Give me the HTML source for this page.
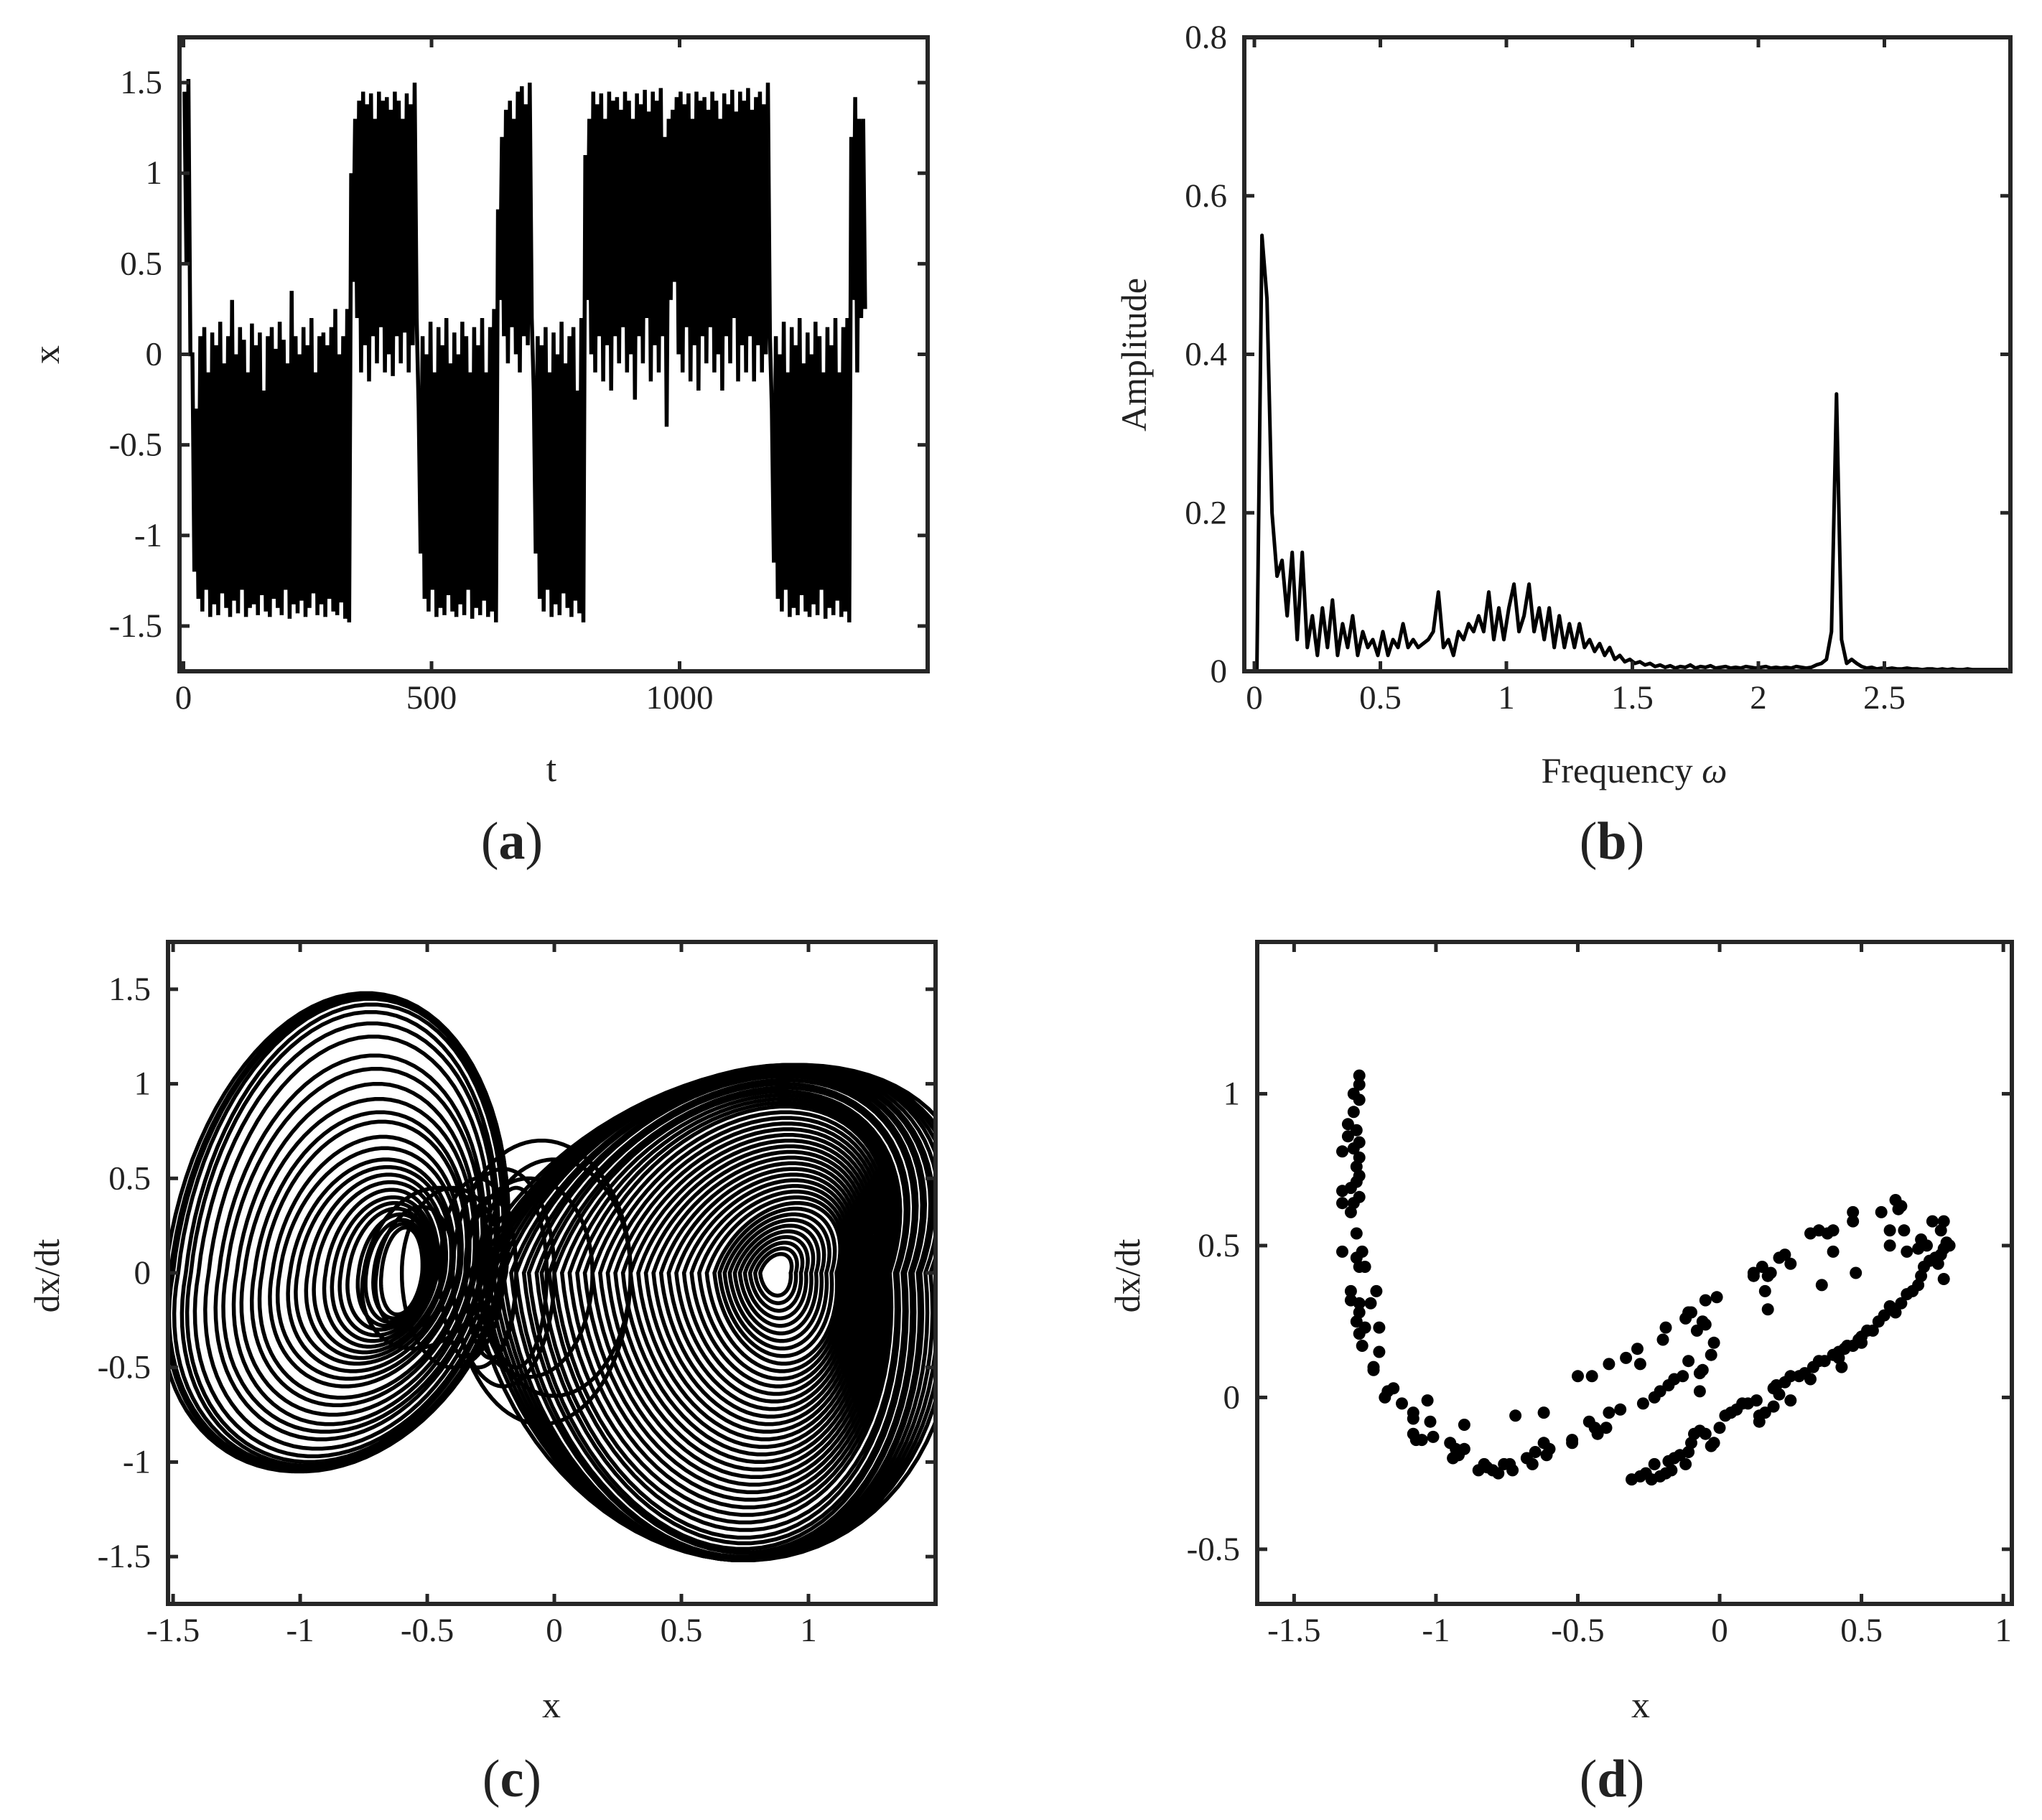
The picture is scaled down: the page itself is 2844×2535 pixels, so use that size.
<!DOCTYPE html>
<html><head><meta charset="utf-8"><style>
html,body{margin:0;padding:0;background:#fff;}
svg{display:block;font-family:"Liberation Serif","DejaVu Serif",serif;}
</style></head><body>
<svg id="fig" width="2844" height="2535" viewBox="0 0 2844 2535" xmlns="http://www.w3.org/2000/svg"></svg>
<script>
// ===== Panel (a) data: time series extrema per cycle (cycle spacing 8 time units) =====
const tsHigh = [1.45,1.52,
0.0,-0.3,0.1,0.15,-0.1,0.12,0.05,0.18,-0.05,0.1,0.3,0.0,0.15,0.08,-0.1,0.17,0.05,0.12,-0.2,0.1,0.15,0.03,0.18,0.08,-0.05,0.35,0.1,0.0,0.15,0.05,0.2,-0.1,0.1,0.12,0.05,0.15,0.25,0.0,0.1,0.25,
1.0,1.3,1.4,1.45,1.38,1.44,1.3,1.45,1.4,1.42,1.35,1.45,1.4,1.3,1.44,1.38,1.5,
-0.3,0.1,0.0,0.18,-0.1,0.15,0.05,0.2,-0.05,0.12,0.0,0.18,0.1,-0.1,0.15,0.05,0.2,-0.1,0.15,0.25,
0.8,1.2,1.35,1.4,1.3,1.45,1.48,1.38,1.5,
-0.2,0.1,0.05,0.15,-0.1,0.12,0.0,0.18,-0.05,0.1,0.15,-0.2,0.2,
1.1,1.3,1.45,1.38,1.44,1.3,1.45,1.4,1.42,1.35,1.45,1.4,1.3,1.44,1.38,1.46,1.34,1.45,1.4,1.47,1.2,1.3,1.35,1.42,1.45,1.38,1.44,1.3,1.45,1.4,1.42,1.35,1.45,1.4,1.3,1.44,1.38,1.46,1.34,1.45,1.4,1.47,1.35,1.42,1.45,1.38,1.5,
-0.3,0.1,0.0,0.18,-0.1,0.15,0.05,0.2,-0.05,0.12,0.0,0.18,0.1,-0.1,0.15,0.05,0.2,-0.1,0.15,0.2,
1.2,1.42,1.3,1.3];
const tsLow = [0.5,0.0,
-1.2,-1.35,-1.42,-1.3,-1.45,-1.38,-1.44,-1.32,-1.4,-1.45,-1.36,-1.43,-1.3,-1.45,-1.4,-1.38,-1.44,-1.33,-1.42,-1.45,-1.35,-1.4,-1.44,-1.3,-1.46,-1.38,-1.43,-1.36,-1.45,-1.4,-1.32,-1.44,-1.38,-1.45,-1.35,-1.42,-1.44,-1.37,-1.46,-1.48,
0.4,0.2,-0.1,0.05,-0.15,0.1,-0.05,0.15,-0.1,0.0,-0.12,0.1,-0.05,0.12,-0.1,0.05,0.2,
-1.1,-1.35,-1.42,-1.3,-1.45,-1.4,-1.44,-1.33,-1.42,-1.45,-1.38,-1.44,-1.3,-1.46,-1.4,-1.44,-1.36,-1.45,-1.42,-1.48,
0.3,0.1,-0.05,0.15,0.0,-0.1,0.1,0.05,0.2,
-1.1,-1.35,-1.42,-1.3,-1.45,-1.38,-1.44,-1.32,-1.4,-1.45,-1.36,-1.43,-1.48,
0.3,0.0,-0.1,0.1,-0.15,0.05,-0.2,0.1,-0.05,0.15,-0.1,0.0,-0.25,0.1,-0.05,0.2,-0.15,0.05,-0.1,0.1,-0.4,0.3,0.4,0.0,-0.1,0.15,-0.15,0.05,-0.2,0.1,-0.05,0.15,-0.1,0.0,-0.2,0.1,-0.05,0.2,-0.15,0.05,-0.1,0.1,-0.15,0.05,-0.1,0.0,0.1,
-1.15,-1.35,-1.42,-1.3,-1.45,-1.4,-1.44,-1.33,-1.42,-1.45,-1.38,-1.44,-1.3,-1.46,-1.4,-1.44,-1.36,-1.45,-1.42,-1.48,
0.3,-0.1,0.2,0.25];
const tsCycle = 8;
const aXTicks = [0,500,1000];
const aYTicks = [-1.5,-1,-0.5,0,0.5,1,1.5];
const aYTickLabels = ["-1.5","-1","-0.5","0","0.5","1","1.5"];

// ===== Panel (b) data: spectrum sampled every 0.02 =====
const specStep = 0.02;
const specAmp = [0.0,0.55,0.47,0.2,0.12,0.14,0.07,0.15,0.04,0.15,0.03,0.07,0.02,0.08,0.03,0.09,0.02,0.06,0.03,0.07,
0.02,0.05,0.03,0.04,0.02,0.05,0.02,0.04,0.03,0.06,0.03,0.04,0.03,0.035,0.04,0.05,0.10,0.03,0.04,0.02,
0.05,0.04,0.06,0.05,0.07,0.05,0.1,0.04,0.08,0.04,0.08,0.11,0.05,0.07,0.11,0.05,0.08,0.04,0.08,0.03,
0.07,0.03,0.06,0.03,0.06,0.03,0.04,0.025,0.035,0.02,0.03,0.015,0.02,0.012,0.015,0.01,0.012,0.008,0.01,0.006,
0.008,0.005,0.007,0.004,0.006,0.005,0.008,0.004,0.006,0.005,0.007,0.004,0.005,0.006,0.004,0.005,0.004,0.006,0.005,0.004,
0.005,0.006,0.004,0.005,0.004,0.005,0.004,0.006,0.005,0.004,0.005,0.008,0.01,0.015,0.05,0.35,0.04,0.01,0.015,0.01,
0.006,0.004,0.005,0.003,0.004,0.003,0.004,0.003,0.003,0.004,0.003,0.003,0.002,0.003,0.003,0.002,0.003,0.002,0.003,0.002,
0.002,0.003,0.002,0.002,0.002,0.002,0.002,0.002,0.002,0.002];
const bXTicks = [0,0.5,1,1.5,2,2.5];
const bXTickLabels = ["0","0.5","1","1.5","2","2.5"];
const bYTicks = [0,0.2,0.4,0.6,0.8];
const bYTickLabels = ["0","0.2","0.4","0.6","0.8"];

// ===== Panel (c) data: phase-portrait loops =====
const loopCx = [-0.86,-0.85,-0.85,-0.84,-0.83,-0.83,-0.82,-0.81,-0.8,-0.79,-0.78,-0.77,-0.76,-0.75,-0.74,-0.73,-0.72,-0.71,-0.7,-0.69,-0.68,-0.67,-0.66,-0.65,-0.63,-0.62,-0.61,-0.6,-0.55,-0.5,
-0.3,-0.2,-0.1,-0.25,0.0,-0.15,-0.4,-0.05,
0.87,0.87,0.87,0.87,0.87,0.87,0.87,0.87,0.87,0.87,0.86,0.85,0.84,0.83,0.82,0.81,0.8,0.79,0.78,0.77,0.76,0.75,0.74,0.73,0.72,0.71,0.7,0.69,0.68,0.67,0.66,0.66,0.65,0.65,0.64,0.64,0.63,0.63,0.62,0.62,0.62,0.62,0.62,0.62,0.62];
const loopRx = [0.67,0.66,0.65,0.64,0.62,0.6,0.58,0.55,0.52,0.5,0.47,0.45,0.42,0.4,0.37,0.35,0.32,0.3,0.27,0.25,0.22,0.2,0.18,0.16,0.14,0.12,0.1,0.08,0.15,0.25,
0.15,0.2,0.25,0.1,0.3,0.12,0.2,0.35,
0.06,0.08,0.1,0.12,0.14,0.16,0.18,0.2,0.22,0.24,0.26,0.28,0.3,0.32,0.34,0.36,0.38,0.4,0.42,0.44,0.46,0.48,0.5,0.52,0.54,0.56,0.58,0.6,0.62,0.64,0.66,0.68,0.7,0.72,0.74,0.76,0.78,0.8,0.82,0.84,0.86,0.88,0.9,0.92,0.95];
const loopTop = [1.48,1.47,1.46,1.45,1.42,1.38,1.32,1.25,1.15,1.08,1.0,0.92,0.85,0.8,0.72,0.66,0.6,0.56,0.52,0.48,0.44,0.4,0.37,0.34,0.31,0.28,0.26,0.24,0.35,0.45,
0.5,0.55,0.5,0.4,0.6,0.45,0.45,0.7,
0.1,0.13,0.16,0.19,0.22,0.25,0.28,0.31,0.34,0.37,0.4,0.43,0.46,0.49,0.52,0.55,0.58,0.61,0.64,0.67,0.7,0.73,0.76,0.79,0.82,0.85,0.88,0.9,0.92,0.94,0.96,0.98,1.0,1.02,1.04,1.05,1.06,1.07,1.08,1.09,1.1,1.1,1.1,1.1,1.1];
const loopBottom = [1.05,1.05,1.04,1.03,1.02,1.0,0.97,0.93,0.88,0.84,0.8,0.75,0.7,0.66,0.6,0.56,0.52,0.48,0.45,0.42,0.39,0.36,0.33,0.3,0.28,0.26,0.24,0.22,0.3,0.4,
0.5,0.6,0.55,0.45,0.65,0.5,0.5,0.8,
0.12,0.16,0.2,0.24,0.28,0.32,0.36,0.4,0.44,0.48,0.52,0.56,0.6,0.64,0.68,0.72,0.76,0.8,0.84,0.88,0.92,0.96,1.0,1.04,1.08,1.12,1.16,1.2,1.24,1.28,1.32,1.36,1.4,1.43,1.46,1.48,1.5,1.51,1.52,1.52,1.52,1.52,1.52,1.52,1.52];
const cXTicks = [-1.5,-1,-0.5,0,0.5,1];
const cXTickLabels = ["-1.5","-1","-0.5","0","0.5","1"];
const cYTicks = [-1.5,-1,-0.5,0,0.5,1,1.5];
const cYTickLabels = ["-1.5","-1","-0.5","0","0.5","1","1.5"];

// ===== Panel (d) data: Poincaré section points =====
const poincX = [-1.27,-1.27,-1.29,-1.27,-1.29,-1.31,-1.28,-1.31,-1.27,-1.29,-1.33,-1.27,-1.28,-1.27,-1.28,-1.3,-1.33,-1.27,-1.29,-1.33,-1.3,-1.28,-1.33,-1.26,-1.28,-1.27,-1.25,-1.3,-1.23,-1.27,-1.3,-1.27,-1.28,-1.25,-1.2,-1.27,-1.21,-1.26,-1.2,-1.22,-1.22,-1.17,-1.18,-1.15,-1.12,-1.08,-1.08,-1.03,-1.02,-1.08,-1.07,-1.05,-1.01,-0.95,-0.93,-0.9,-0.9,-0.94,-0.92,-0.85,-0.83,-0.82,-0.8,-0.78,-0.76,-0.74,-0.73,-0.72,-0.68,-0.66,-0.65,-0.62,-0.62,-0.61,-0.6,-0.52,-0.52,
-0.5,-0.45,-0.39,-0.33,-0.29,-0.28,-0.2,-0.19,-0.12,-0.11,-0.1,-0.05,-0.01,-0.06,-0.08,0.12,0.12,0.15,0.17,0.18,0.21,0.23,0.25,0.32,0.35,0.38,0.4,0.4,0.47,0.47,0.48,0.36,0.17,0.16,
-0.46,-0.44,-0.43,-0.4,-0.39,-0.35,-0.27,-0.23,-0.21,-0.18,-0.16,-0.13,-0.11,-0.07,-0.06,-0.03,-0.02,-0.07,-0.05,
-0.31,-0.28,-0.26,-0.24,-0.23,-0.21,-0.19,-0.18,-0.17,-0.16,-0.14,-0.12,-0.11,-0.1,-0.09,-0.07,-0.05,-0.03,-0.02,0.0,0.02,0.04,0.06,0.08,0.1,0.13,0.14,0.14,0.16,0.19,0.19,0.21,0.23,0.25,0.28,0.3,0.33,0.35,0.37,0.4,0.42,0.43,0.45,0.47,0.49,0.5,0.52,0.54,0.56,0.58,0.6,0.62,0.64,0.66,0.68,0.7,0.71,0.72,0.74,0.76,0.77,0.78,0.79,0.79,0.8,0.81,0.78,0.79,0.75,0.73,0.71,0.7,0.66,0.65,0.64,0.63,0.62,0.6,0.6,0.57,0.42,0.44,0.32,0.2,0.25,0.5];
const poincY = [1.06,1.03,1.0,0.98,0.94,0.9,0.88,0.86,0.84,0.82,0.81,0.79,0.76,0.73,0.71,0.69,0.68,0.66,0.64,0.64,0.61,0.54,0.48,0.48,0.46,0.43,0.43,0.35,0.31,0.31,0.32,0.28,0.25,0.23,0.23,0.21,0.35,0.17,0.15,0.1,0.09,0.02,0.0,0.03,-0.02,-0.05,-0.07,-0.01,-0.08,-0.12,-0.14,-0.14,-0.13,-0.15,-0.17,-0.17,-0.09,-0.2,-0.19,-0.24,-0.22,-0.23,-0.24,-0.25,-0.22,-0.22,-0.24,-0.06,-0.2,-0.22,-0.18,-0.15,-0.05,-0.19,-0.17,-0.15,-0.14,
0.07,0.07,0.11,0.13,0.16,0.11,0.19,0.23,0.26,0.28,0.28,0.32,0.33,0.25,0.22,0.4,0.41,0.43,0.4,0.41,0.46,0.47,0.44,0.54,0.55,0.54,0.55,0.48,0.58,0.61,0.41,0.37,0.29,0.35,
-0.08,-0.1,-0.12,-0.1,-0.05,-0.04,-0.02,0.0,0.02,0.04,0.06,0.07,0.12,0.08,0.09,0.14,0.18,0.02,0.24,
-0.27,-0.26,-0.25,-0.27,-0.22,-0.26,-0.25,-0.21,-0.24,-0.2,-0.19,-0.22,-0.18,-0.15,-0.12,-0.11,-0.12,-0.16,-0.15,-0.1,-0.06,-0.05,-0.04,-0.02,-0.02,-0.01,-0.06,-0.08,-0.05,-0.03,0.03,0.01,0.05,0.07,0.07,0.08,0.1,0.12,0.12,0.14,0.15,0.1,0.17,0.17,0.19,0.2,0.22,0.22,0.25,0.27,0.3,0.28,0.31,0.34,0.35,0.37,0.4,0.43,0.45,0.46,0.44,0.47,0.39,0.49,0.51,0.5,0.55,0.58,0.58,0.5,0.52,0.49,0.48,0.55,0.63,0.62,0.65,0.5,0.55,0.61,0.13,0.16,0.06,0.04,-0.01,0.18];
const dXTicks = [-1.5,-1,-0.5,0,0.5,1];
const dXTickLabels = ["-1.5","-1","-0.5","0","0.5","1"];
const dYTicks = [-0.5,0,0.5,1];
const dYTickLabels = ["-0.5","0","0.5","1"];

// ===== rendering =====
const NS = "http://www.w3.org/2000/svg";
const svg = document.getElementById('fig');
function mk(tag, attrs, parent){
  const e = document.createElementNS(NS, tag);
  for (const k in attrs) e.setAttribute(k, attrs[k]);
  (parent||svg).appendChild(e);
  return e;
}
function txt(s, x, y, size, anchor, parent, rot){
  const t = mk('text', {x:x, y:y, 'font-size':size, 'text-anchor':anchor||'middle', fill:'#222'}, parent);
  if (rot) t.setAttribute('transform', 'rotate(' + rot + ' ' + x + ' ' + y + ')');
  t.textContent = s;
  return t;
}
function makeAxes(id, L, R, T, B, xmin, xmax, ymin, ymax, xt, xtl, yt, ytl){
  const g = mk('g', {});
  
  
  const sx = v => L + (v - xmin) / (xmax - xmin) * (R - L);
  const sy = v => B - (v - ymin) / (ymax - ymin) * (B - T);
  const cp = mk('clipPath', {id: id + '-clip'}, g);
  mk('rect', {x:L, y:T, width:R-L, height:B-T}, cp);
  const plot = mk('g', {'clip-path': 'url(#' + id + '-clip)'}, g);
  
  
  const ticks = mk('g', {stroke:'#262626', 'stroke-width':5}, g);
  
  
  const tl = 14;
  xt.forEach((v, i) => {
    const x = sx(v);
    mk('line', {x1:x, y1:B, x2:x, y2:B-tl}, ticks);
    mk('line', {x1:x, y1:T, x2:x, y2:T+tl}, ticks);
    const lb = txt(xtl[i], x, B + 52, 47, 'middle', g);
    
    
  });
  yt.forEach((v, i) => {
    const y = sy(v);
    mk('line', {x1:L, y1:y, x2:L+tl, y2:y}, ticks);
    mk('line', {x1:R, y1:y, x2:R-tl, y2:y}, ticks);
    const lb = txt(ytl[i], L - 24, y + 15, 47, 'end', g);
    
    
  });
  const box = mk('rect', {x:L, y:T, width:R-L, height:B-T, fill:'none', stroke:'#262626', 'stroke-width':6}, g);
  
  
  return {g, plot, sx, sy};
}
function label(s, x, y, size, name, rot){
  const t = txt(s, x, y, size, 'middle', svg, rot);
  
  
  return t;
}
function panelLabel(letter, x, y, name){
  const t = mk('text', {x:x, y:y, 'font-size':74, 'text-anchor':'middle', fill:'#222'});
  
  
  const a = mk('tspan', {}, t); a.textContent = '(';
  const b = mk('tspan', {'font-weight':'bold'}, t); b.textContent = letter;
  const c = mk('tspan', {}, t); c.textContent = ')';
}

// Panel (a)
const A = makeAxes('panel-a', 250, 1292, 52, 935, -8, 1500, -1.75, 1.75, aXTicks, ["0","500","1000"], aYTicks, aYTickLabels);
{
  let d = '';
  for (let i = 0; i < tsHigh.length; i++) {
    const t1 = tsCycle * i + 2, t2 = tsCycle * i + 6;
    d += (i === 0 ? 'M' : 'L') + A.sx(t1).toFixed(1) + ' ' + A.sy(tsHigh[i]).toFixed(1);
    d += 'L' + A.sx(t2).toFixed(1) + ' ' + A.sy(tsLow[i]).toFixed(1);
  }
  const p = mk('path', {d:d, fill:'none', stroke:'#000', 'stroke-width':5.5, 'stroke-linejoin':'miter'}, A.plot);
  
  
}
label('x', 82, 494, 52, 'panel-a-y-axis-title', -90);
label('t', 768, 1088, 52, 'panel-a-x-axis-title');
panelLabel('a', 713, 1196, 'panel-a-caption');

// Panel (b)
const Bx = makeAxes('panel-b', 1733, 2800, 52, 935, -0.04, 3.0, 0, 0.8, bXTicks, bXTickLabels, bYTicks, bYTickLabels);
{
  let d = '';
  specAmp.forEach((v, i) => {
    d += (i === 0 ? 'M' : 'L') + Bx.sx(i * specStep + 0.01).toFixed(1) + ' ' + Bx.sy(v).toFixed(1);
  });
  const p = mk('path', {d:d, fill:'none', stroke:'#000', 'stroke-width':5, 'stroke-linejoin':'round'}, Bx.plot);
  
  
}
label('Amplitude', 1596, 494, 50, 'panel-b-y-axis-title', -90);
{
  const t = mk('text', {x:2276, y:1090, 'font-size':50, 'text-anchor':'middle', fill:'#222'});
  
  
  const a = mk('tspan', {}, t); a.textContent = 'Frequency ';
  const b = mk('tspan', {'font-style':'italic'}, t); b.textContent = 'ω';
}
panelLabel('b', 2245, 1196, 'panel-b-caption');

// Panel (c)
const C = makeAxes('panel-c', 234, 1303, 1312, 2234, -1.52, 1.5, -1.75, 1.75, cXTicks, cXTickLabels, cYTicks, cYTickLabels);
for (let k = 0; k < loopCx.length; k++) {
  let up = 0, down = 0, rmax = 1;
  if (loopCx[k] < -0.45) { up = 0.12; down = 0.15; rmax = 0.67; }
  else if (loopCx[k] > 0.5) { up = 0.34; down = -0.13; rmax = 0.95; }
  let d = '';
  for (let j = 0; j <= 90; j++) {
    const th = j / 90 * 2 * Math.PI;
    const s = Math.sin(th);
    const yv = s > 0 ? loopTop[k] * s : loopBottom[k] * s;
    const sh = (s > 0 ? up : down) * s * loopRx[k] / rmax;
    const xv = loopCx[k] + loopRx[k] * Math.cos(th) + sh;
    d += (j === 0 ? 'M' : 'L') + C.sx(xv).toFixed(1) + ' ' + C.sy(yv).toFixed(1);
  }
  const p = mk('path', {d:d + 'Z', fill:'none', stroke:'#000', 'stroke-width':5.5}, C.plot);
  
  
}
label('dx/dt', 82, 1777, 50, 'panel-c-y-axis-title', -90);
label('x', 768, 2392, 52, 'panel-c-x-axis-title');
panelLabel('c', 713, 2502, 'panel-c-caption');

// Panel (d)
const D = makeAxes('panel-d', 1751, 2802, 1312, 2234, -1.63, 1.03, -0.68, 1.5, dXTicks, dXTickLabels, dYTicks, dYTickLabels);
for (let i = 0; i < poincX.length; i++) {
  const c = mk('circle', {cx:D.sx(poincX[i]).toFixed(1), cy:D.sy(poincY[i]).toFixed(1), r:8.5, fill:'#000'}, D.plot);
  
  
}
label('dx/dt', 1587, 1777, 50, 'panel-d-y-axis-title', -90);
label('x', 2285, 2392, 52, 'panel-d-x-axis-title');
panelLabel('d', 2245, 2502, 'panel-d-caption');
</script>
</body></html>
